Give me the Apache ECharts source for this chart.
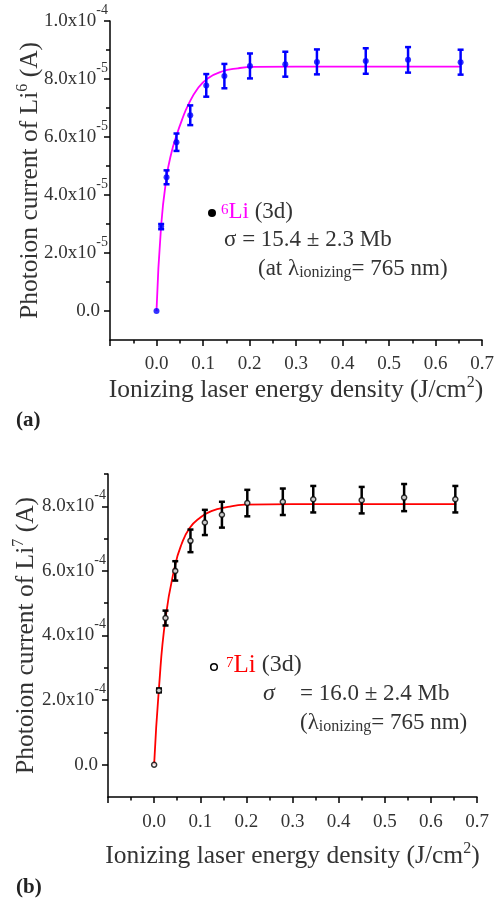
<!DOCTYPE html>
<html>
<head>
<meta charset="utf-8">
<script src="https://cdn.jsdelivr.net/npm/echarts@6.0.0/dist/echarts.min.js"></script>
<style>
html, body { margin: 0; padding: 0; background: #fff; }
#chart { width: 501px; height: 910px; }
</style>
</head>
<body>
<div id="chart"></div>
<script>
// panel (a): 6Li, photoion current in A
const energyA  = [0, 0.010, 0.0216, 0.043, 0.0726, 0.107, 0.146, 0.201, 0.277, 0.345, 0.450, 0.541, 0.654];
const currentA = [0, 2.91e-5, 4.61e-5, 5.82e-5, 6.75e-5, 7.78e-5, 8.10e-5, 8.45e-5, 8.51e-5, 8.59e-5, 8.62e-5, 8.66e-5, 8.58e-5];
const errA     = [0, 0.09e-5, 0.24e-5, 0.30e-5, 0.34e-5, 0.39e-5, 0.42e-5, 0.43e-5, 0.43e-5, 0.43e-5, 0.44e-5, 0.44e-5, 0.43e-5];
const fitEnergyA  = [0, 0.010, 0.0216, 0.032, 0.043, 0.055, 0.068, 0.089, 0.110, 0.139, 0.175, 0.211, 0.300, 0.655];
const fitCurrentA = [0, 2.95e-5, 4.61e-5, 5.45e-5, 6.05e-5, 6.60e-5, 7.10e-5, 7.68e-5, 8.02e-5, 8.25e-5, 8.37e-5, 8.42e-5, 8.43e-5, 8.43e-5];

// panel (b): 7Li
const energyB  = [0, 0.0105, 0.0247, 0.0458, 0.0788, 0.110, 0.147, 0.202, 0.279, 0.345, 0.450, 0.542, 0.653];
const currentB = [0, 2.30e-4, 4.54e-4, 6.00e-4, 6.93e-4, 7.50e-4, 7.74e-4, 8.10e-4, 8.14e-4, 8.22e-4, 8.19e-4, 8.27e-4, 8.22e-4];
const errB     = [0, 0.06e-4, 0.23e-4, 0.30e-4, 0.35e-4, 0.39e-4, 0.40e-4, 0.41e-4, 0.41e-4, 0.41e-4, 0.41e-4, 0.42e-4, 0.41e-4];
const fitEnergyB  = [0, 0.0102, 0.0247, 0.0454, 0.059, 0.077, 0.099, 0.124, 0.160, 0.196, 0.300, 0.655];
const fitCurrentB = [0, 2.32e-4, 4.54e-4, 6.17e-4, 6.81e-4, 7.33e-4, 7.64e-4, 7.85e-4, 7.98e-4, 8.05e-4, 8.07e-4, 8.07e-4];

// ticks
const xTicks  = [0, 0.1, 0.2, 0.3, 0.4, 0.5, 0.6, 0.7];
const yTicksA = [0, 2e-5, 4e-5, 6e-5, 8e-5, 1e-4];
const yMantA  = ['0.0', '2.0', '4.0', '6.0', '8.0', '1.0'];
const yExpA   = ['', '-5', '-5', '-5', '-5', '-4'];
const yMinorA = [1e-5, 3e-5, 5e-5, 7e-5, 9e-5];
const yTicksB = [0, 2e-4, 4e-4, 6e-4, 8e-4];
const yMantB  = ['0.0', '2.0', '4.0', '6.0', '8.0'];
const yExpB   = ['', '-4', '-4', '-4', '-4'];
const yMinorB = [1e-4, 3e-4, 5e-4, 7e-4, 9e-4];

const FONT = "'Liberation Serif', 'Times New Roman', serif";
const INK = '#333';
const axisStroke = { color: '#000', width: 1.5 };

function pairs(xs, ys, es) {
    return xs.map((x, i) => es ? [x, ys[i], es[i]] : [x, ys[i]]);
}

function xAxisFor(grid, margin, gap) {
    return {
        type: 'value', gridIndex: grid, min: -0.1, max: 0.7, interval: 0.1,
        axisLine: { onZero: false, lineStyle: axisStroke },
        axisTick: { inside: false, length: 6, lineStyle: axisStroke },
        minorTick: { show: true, splitNumber: 2, length: 3.5, lineStyle: axisStroke },
        splitLine: { show: false },
        axisLabel: {
            customValues: xTicks, formatter: v => v.toFixed(1),
            margin: margin, fontSize: 19, fontFamily: FONT, color: INK
        },
        name: 'Ionizing laser energy density (J/cm{s|2})',
        nameLocation: 'middle', nameGap: gap,
        nameTextStyle: {
            fontSize: 25.5, fontFamily: FONT, color: INK,
            rich: { s: { fontSize: 16, fontFamily: FONT, color: INK, padding: [0, 0, 14, 0] } }
        }
    };
}

function yAxisMain(grid, min, max, ticks, mant, exp, iso, gap) {
    return {
        type: 'value', gridIndex: grid, position: 'left', min: min, max: max,
        axisLine: { onZero: false, lineStyle: axisStroke },
        axisTick: { customValues: ticks, length: 6, lineStyle: axisStroke },
        splitLine: { show: false },
        axisLabel: {
            customValues: ticks, margin: 2,
            formatter: function (v) {
                let i = ticks.findIndex(t => Math.abs(t - v) < max * 1e-6);
                if (i < 0) return '';
                if (!exp[i]) return '{z|' + mant[i] + '}';
                return '{m|' + mant[i] + 'x10}{e|' + exp[i] + '}';
            },
            rich: {
                m: { fontSize: 19, fontFamily: FONT, color: INK, width: 47 },
                e: { fontSize: 14, fontFamily: FONT, color: INK, padding: [0, 0, 22, 0] },
                z: { fontSize: 19, fontFamily: FONT, color: INK, padding: [0, 8, 0, 0] }
            }
        },
        name: 'Photoion current of Li{s|' + iso + '} (A)',
        nameLocation: 'middle', nameGap: gap, nameMoveOverlap: false,
        nameTextStyle: {
            fontSize: 25.5, fontFamily: FONT, color: INK,
            rich: { s: { fontSize: 16, fontFamily: FONT, color: INK, padding: [0, 0, 14, 0] } }
        }
    };
}

function yAxisMinor(grid, min, max, minor) {
    return {
        type: 'value', gridIndex: grid, position: 'left', min: min, max: max,
        axisLine: { show: false, onZero: false },
        axisTick: { customValues: minor, length: 4, lineStyle: axisStroke },
        axisLabel: { show: false },
        splitLine: { show: false }
    };
}

function errorBars(color) {
    return function (params, api) {
        let x = api.value(0), y = api.value(1), e = api.value(2);
        if (!e) return null;
        let hi = api.coord([x, y + e]);
        let lo = api.coord([x, y - e]);
        let w = 3;
        let style = { stroke: color, lineWidth: 2.5 };
        return {
            type: 'group',
            children: [
                { type: 'line', shape: { x1: hi[0], y1: hi[1], x2: lo[0], y2: lo[1] }, style: style },
                { type: 'line', shape: { x1: hi[0] - w, y1: hi[1], x2: hi[0] + w, y2: hi[1] }, style: style },
                { type: 'line', shape: { x1: lo[0] - w, y1: lo[1], x2: lo[0] + w, y2: lo[1] }, style: style }
            ]
        };
    };
}

function txt(x, y, text, size, rich, extra) {
    return {
        type: 'text', x: x, y: y, z: 10,
        style: Object.assign({
            text: text, fontSize: size, fontFamily: FONT, fill: INK,
            verticalAlign: 'middle', align: 'left', rich: rich || {}
        }, extra || {})
    };
}

const supPink = { fontSize: 15, fontFamily: FONT, fill: '#ff00ff', padding: [0, 0, 4, 0] };
const liPink = { fontSize: 23, fontFamily: FONT, fill: '#ff00ff' };
const supRed = { fontSize: 15, fontFamily: FONT, fill: '#ff0000', padding: [0, 0, 4, 0] };
const liRed = { fontSize: 25, fontFamily: FONT, fill: '#ff0000' };
const subStyle = { fontSize: 16, fontFamily: FONT, fill: INK, padding: [8, 0, 0, 0] };

const chart = echarts.init(document.getElementById('chart'));

const option = {
    backgroundColor: '#fff',
    animation: false,
    grid: [
        { left: 110, top: 21, width: 372, height: 319 },
        { left: 108, top: 474, width: 369, height: 323 }
    ],
    xAxis: [xAxisFor(0, 15, 34), xAxisFor(1, 16, 44)],
    yAxis: [
        yAxisMain(0, -1e-5, 1e-4, yTicksA, yMantA, yExpA, '6', 65),
        yAxisMinor(0, -1e-5, 1e-4, yMinorA),
        yAxisMain(1, -1e-4, 9e-4, yTicksB, yMantB, yExpB, '7', 67),
        yAxisMinor(1, -1e-4, 9e-4, yMinorB)
    ],
    series: [
        {
            type: 'line', xAxisIndex: 0, yAxisIndex: 0, data: pairs(fitEnergyA, fitCurrentA),
            smooth: 0.5, showSymbol: false, z: 2,
            lineStyle: { color: '#ff00ff', width: 1.8 }
        },
        {
            type: 'custom', xAxisIndex: 0, yAxisIndex: 0, data: pairs(energyA, currentA, errA),
            encode: { x: 0, y: 1 }, renderItem: errorBars('#0000ff'), z: 3
        },
        {
            type: 'scatter', xAxisIndex: 0, yAxisIndex: 0, data: pairs(energyA, currentA),
            symbol: 'circle', symbolSize: 6, z: 4,
            itemStyle: { color: '#0000ff' }
        },
        {
            type: 'line', xAxisIndex: 1, yAxisIndex: 2, data: pairs(fitEnergyB, fitCurrentB),
            smooth: 0.5, showSymbol: false, z: 2,
            lineStyle: { color: '#ff0000', width: 1.8 }
        },
        {
            type: 'custom', xAxisIndex: 1, yAxisIndex: 2, data: pairs(energyB, currentB, errB),
            encode: { x: 0, y: 1 }, renderItem: errorBars('#000'), z: 3
        },
        {
            type: 'scatter', xAxisIndex: 1, yAxisIndex: 2, data: pairs(energyB, currentB),
            symbol: 'circle', symbolSize: 5, z: 4,
            itemStyle: { color: '#fff', borderColor: '#000', borderWidth: 1.5 }
        }
    ],
    graphic: [
        { type: 'circle', z: 10, shape: { cx: 212, cy: 213, r: 4 }, style: { fill: '#000' } },
        txt(221, 212, '{s|6}{l|Li} (3d)', 23, { s: supPink, l: liPink }),
        txt(224, 240, 'σ = 15.4 ± 2.3 Mb', 23),
        txt(258, 269, '(at λ{b|ionizing}= 765 nm)', 23, { b: subStyle }),
        txt(16, 421, '(a)', 21, null, { fontWeight: 'bold', fill: '#222' }),

        { type: 'circle', z: 10, shape: { cx: 214, cy: 667, r: 3.3 }, style: { fill: '#fff', stroke: '#000', lineWidth: 1.5 } },
        txt(226, 665, '{s|7}{l|Li} (3d)', 24, { s: supRed, l: liRed }),
        txt(263, 694, 'σ', 24, null, { fontStyle: 'italic' }),
        txt(300, 694, '= 16.0 ± 2.4 Mb', 23),
        txt(300, 723, '(λ{b|ionizing}= 765 nm)', 23, { b: subStyle }),
        txt(16, 888, '(b)', 21, null, { fontWeight: 'bold', fill: '#222' })
    ]
};

chart.setOption(option);
</script>
</body>
</html>
